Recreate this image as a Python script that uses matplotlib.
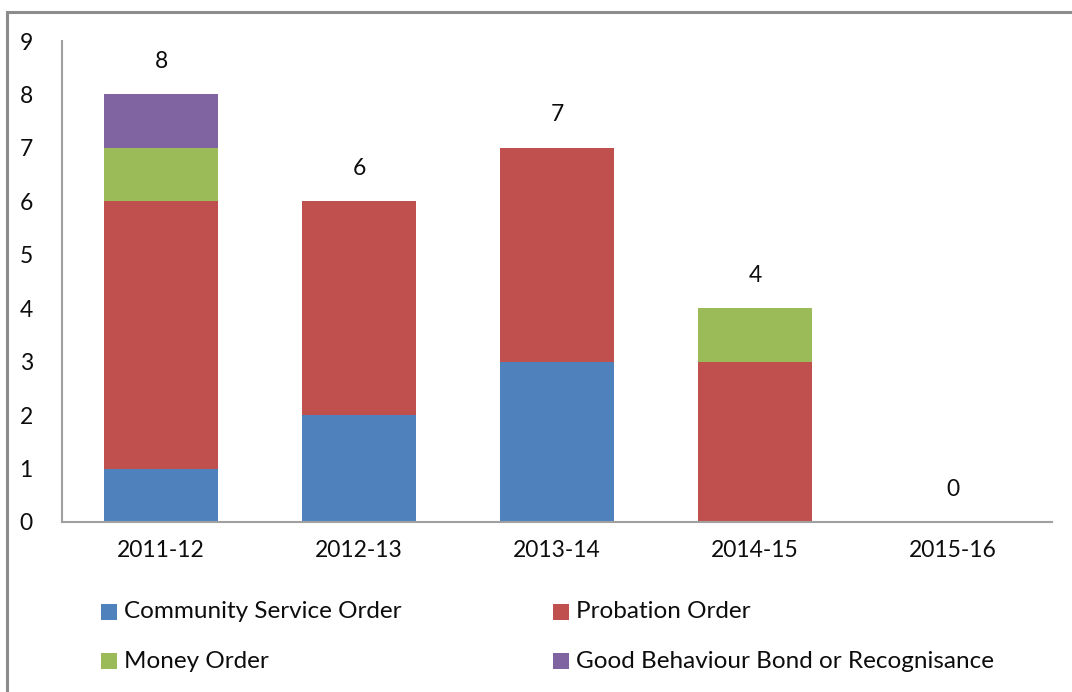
import matplotlib
matplotlib.use("Agg")
import matplotlib.pyplot as plt
from matplotlib.patches import Rectangle
import numpy as np

years = ["2011-12", "2012-13", "2013-14", "2014-15", "2015-16"]
series_names = ["Community Service Order", "Probation Order", "Money Order",
                "Good Behaviour Bond or Recognisance"]
community_service = [1, 2, 3, 0, 0]
probation = [5, 4, 4, 3, 0]
money = [1, 0, 0, 1, 0]
good_behaviour = [1, 0, 0, 0, 0]
colors = ["#4F81BD", "#C0504D", "#9BBB59", "#8064A2"]

plt.rcParams['font.family'] = ['Lato', 'DejaVu Sans']
W, H = 1072, 692
fig = plt.figure(figsize=(W / 100, H / 100), dpi=100)
txt = "#0d0d0d"

# outer border
fig.patches.append(Rectangle((7 / W, -0.1), 1.2, 1 - 11.5 / H + 0.1, transform=fig.transFigure,
                             fill=False, edgecolor="#8C8C8C", linewidth=2.2))

ax = fig.add_axes([62 / W, 1 - 522 / H, (1052 - 62) / W, (522 - 41) / H])
x = np.arange(len(years))
data = [community_service, probation, money, good_behaviour]
bottom = np.zeros(len(years))
for vals, c in zip(data, colors):
    ax.bar(x, vals, bottom=bottom, width=0.575, color=c, linewidth=0)
    bottom += np.array(vals)

totals = bottom
for xi, t in zip(x, totals):
    ax.text(xi, t + 0.42, f"{int(t)}", ha="center", va="bottom", fontsize=16.5, color=txt)

ax.set_xlim(-0.5, len(years) - 0.5)
ax.set_ylim(0, 9)
ax.set_yticks(range(0, 10))
ax.set_xticks(x)
ax.set_xticklabels(years)
ax.tick_params(axis="both", length=0, labelsize=16.5, colors=txt)
ax.tick_params(axis="y", pad=21)
ax.tick_params(axis="x", pad=13)
for s in ["top", "right"]:
    ax.spines[s].set_visible(False)
for s in ["left", "bottom"]:
    ax.spines[s].set_color("#A0A0A0")
    ax.spines[s].set_linewidth(1.5)

# legend (2 columns)
pos = [(101, 612), (553, 612), (101, 661), (553, 661)]
for (px, py), i in zip(pos, range(4)):
    fig.patches.append(Rectangle((px / W, 1 - (py + 8) / H), 16 / W, 16 / H,
                                 transform=fig.transFigure, facecolor=colors[i], edgecolor="none"))
    fig.text((px + 23) / W, 1 - py / H, series_names[i], ha="left", va="center",
             fontsize=17.5, color=txt)

fig.savefig("out.png", dpi=100)
